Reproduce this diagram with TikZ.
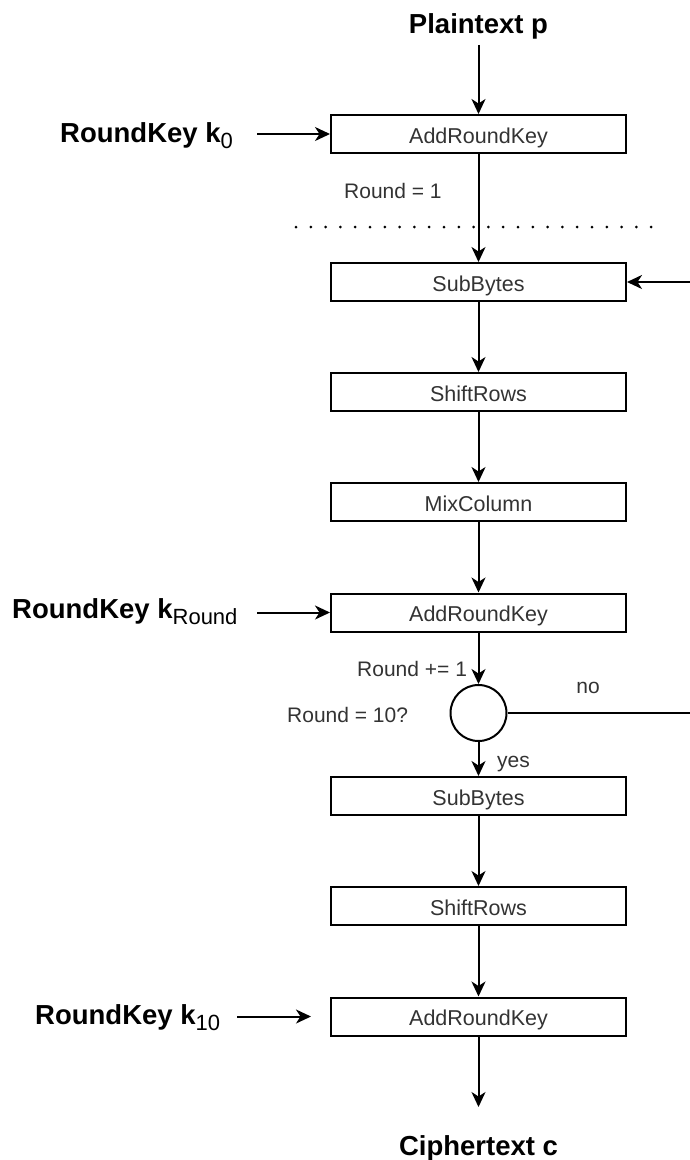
\documentclass[tikz,border=0pt]{standalone}
\usepackage{fontspec}
\setmainfont{Liberation Sans}
\usetikzlibrary{arrows.meta,calc}
\definecolor{txt}{HTML}{333333}
\newcommand\ksub[1]{\raisebox{-6pt}{\fontsize{22}{26}\mdseries\selectfont #1}}
\begin{document}
\begin{tikzpicture}[x=1pt,y=-1pt,
  box/.style={draw,line width=2pt,minimum width=295pt,minimum height=38pt,inner sep=0pt,
    font=\fontsize{21.5}{25}\selectfont,text=txt,text height=18pt,text depth=0pt},
  lbl/.style={inner sep=0pt,font=\fontsize{21}{25}\selectfont,text=txt},
  big/.style={inner sep=0pt,font=\bfseries\fontsize{27.5}{32}\selectfont},
  arr/.style={line width=2pt,-{Stealth[length=15pt,width=14pt,inset=4.5pt]}},
]
\useasboundingbox[fill=white] (0,0) rectangle (689,1160);

% boxes
\node[box] (ark1) at (478.5,134) {AddRoundKey};
\node[box] (sb1)  at (478.5,282) {SubBytes};
\node[box] (sr1)  at (478.5,392) {ShiftRows};
\node[box] (mc)   at (478.5,502) {MixColumn};
\node[box] (ark2) at (478.5,612.5) {AddRoundKey};
\node[circle,draw,line width=2pt,minimum size=56pt,inner sep=0pt] (circ) at (478.5,713) {};
\node[box] (sb2)  at (478.5,796) {SubBytes};
\node[box] (sr2)  at (478.5,906) {ShiftRows};
\node[box] (ark3) at (478.5,1016.5) {AddRoundKey};

% big labels
\node[big,anchor=base] (pt) at (478.5,33) {Plaintext p};
\node[big,anchor=base] (ct) at (478.5,1155) {Ciphertext c};
\coordinate (ctin) at (478.5,1107);
\node[big,anchor=base west] (k0) at (60,142) {RoundKey k\ksub{0}};
\node[big,anchor=base west] (kr) at (12,618) {RoundKey k\ksub{Round}};
\node[big,anchor=base west] (k10) at (35,1024) {RoundKey k\ksub{10}};

% small labels
\node[lbl,anchor=base west] (r1) at (344,198) {Round = 1};
\node[lbl,anchor=base west] (rinc) at (357,676) {Round += 1};
\node[lbl,anchor=base west] (r10) at (287,722) {Round = 10?};
\node[lbl,anchor=base] (no) at (588,693) {no};
\node[lbl,anchor=base west] (yes) at (497,767) {yes};

% dotted separator
\draw[line width=3pt,line cap=round,dash pattern=on 0pt off 14.8pt] (296,227) -- (655,227);

% main flow
\draw[arr,shorten <=6pt] (pt) -- (ark1);
\draw[arr] (ark1) -- (sb1);
\draw[arr] (sb1) -- (sr1);
\draw[arr] (sr1) -- (mc);
\draw[arr] (mc) -- (ark2);
\draw[arr] (ark2) -- (circ);
\draw[arr] (circ) -- (sb2);
\draw[arr] (sb2) -- (sr2);
\draw[arr] (sr2) -- (ark3);
\draw[arr] (ark3) -- (ctin);

% key inputs
\draw[arr] ($(ark1.west)+(-73,0)$) -- (ark1.west);
\draw[arr] ($(ark2.west)+(-73,0)$) -- (ark2.west);
\draw[arr] ($(ark3.west)+(-93,0)$) -- ($(ark3.west)+(-19,0)$);

% loop back
\coordinate (rx) at (700,0);
\draw[arr] (circ.east) -- (circ.east -| rx) |- (sb1.east);
\end{tikzpicture}
\end{document}
